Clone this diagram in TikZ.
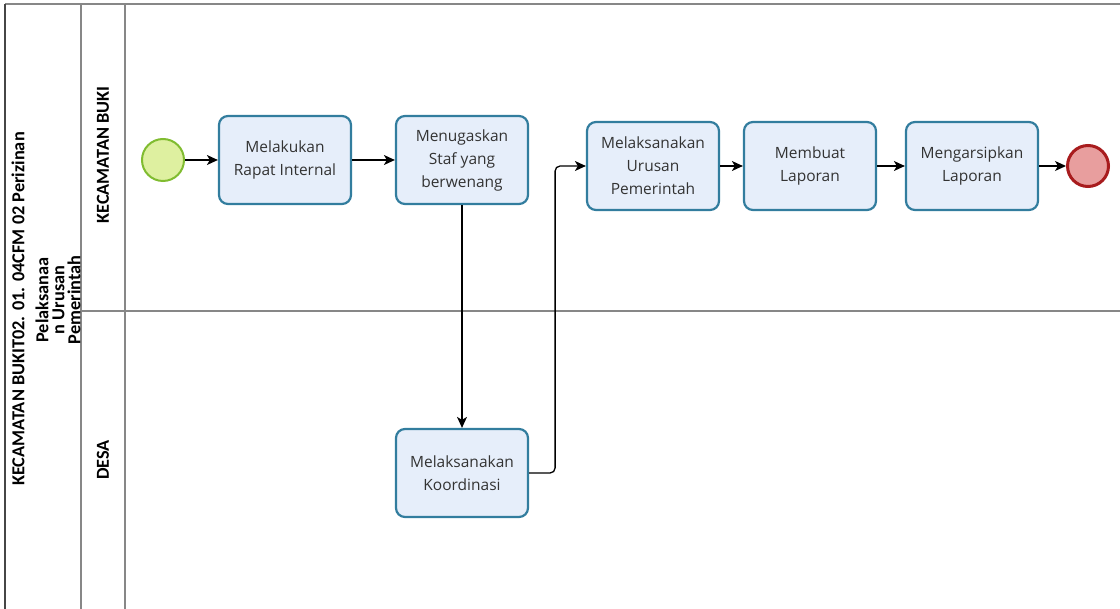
\documentclass[tikz,border=0pt]{standalone}
\usepackage{fontspec}
\setmainfont{Open Sans}
\newfontfamily\headfont{Carlito}
\usetikzlibrary{arrows.meta,shapes,positioning,calc}

\definecolor{taskfill}{RGB}{230,238,250}
\definecolor{taskline}{RGB}{50,125,158}
\definecolor{startfill}{RGB}{222,240,160}
\definecolor{startline}{RGB}{128,188,48}
\definecolor{endfill}{RGB}{232,158,158}
\definecolor{endline}{RGB}{168,28,30}
\definecolor{poolline}{RGB}{70,70,70}
\definecolor{laneline}{RGB}{135,135,135}

\tikzset{
  task/.style={draw=taskline, fill=taskfill, line width=2.2pt, rounded corners=9pt,
    minimum width=132pt, minimum height=88pt, align=center, text=black!80,
    font=\fontsize{15.5}{23}\selectfont},
  startev/.style={circle, draw=startline, fill=startfill, line width=2pt, minimum size=42pt},
  endev/.style={circle, draw=endline, fill=endfill, line width=3pt, minimum size=41pt},
  flow/.style={-{Stealth[length=11pt,width=10pt,inset=3pt]}, line width=1.3pt},
  lanetext/.style={rotate=90, font=\headfont\bfseries\fontsize{18.3}{16}\selectfont}
}

\begin{document}
\begin{tikzpicture}[x=1pt,y=-1pt]
  \useasboundingbox (0,0) rectangle (1120,609);

  % pool and lanes
  \draw[laneline, line width=1.5pt] (5,4) -- (1120,4);
  \draw[laneline, line width=1.2pt] (81,311) -- (1120,311);
  \draw[laneline, line width=1.2pt] (81,4) -- (81,609);
  \draw[laneline, line width=1.2pt] (125,4) -- (125,609);
  \draw[poolline, line width=1.5pt] (5,4) -- (5,609);

  \node[lanetext] (pool) at (18,309) {KECAMATAN BUKIT02. 01. 04CFM 02 Perizinan};
  \node[lanetext, align=center] (poolsub) at (58,300) {Pelaksanaa\\n Urusan\\Pemerintah};
  \node[lanetext] (lane1) at (103,155) {KECAMATAN BUKI};
  \node[lanetext] (lane2) at (103,460) {DESA};

  % events and tasks
  \node[startev] (start) at (163,160) {};
  \node[task] (rapat) at (285,160) {Melakukan\\Rapat Internal};
  \node[task] (tugas) at (462,160) {Menugaskan\\Staf yang\\berwenang};
  \node[task] (urusan) at (653,166) {Melaksanakan\\Urusan\\Pemerintah};
  \node[task] (lapor) at (810,166) {Membuat\\Laporan};
  \node[task] (arsip) at (972,166) {Mengarsipkan\\Laporan};
  \node[endev] (stop) at (1088,166) {};
  \node[task] (koord) at (462,473) {Melaksanakan\\Koordinasi};

  % flows
  \draw[flow] (start) -- (rapat);
  \draw[flow] (rapat) -- (tugas);
  \draw[flow] (tugas) -- (koord);
  \draw[flow, rounded corners=5pt] (koord.east) -- ++(26,0) |- (urusan.west);
  \draw[flow] (urusan) -- (lapor);
  \draw[flow] (lapor) -- (arsip);
  \draw[flow] (arsip) -- (stop);
\end{tikzpicture}
\end{document}
